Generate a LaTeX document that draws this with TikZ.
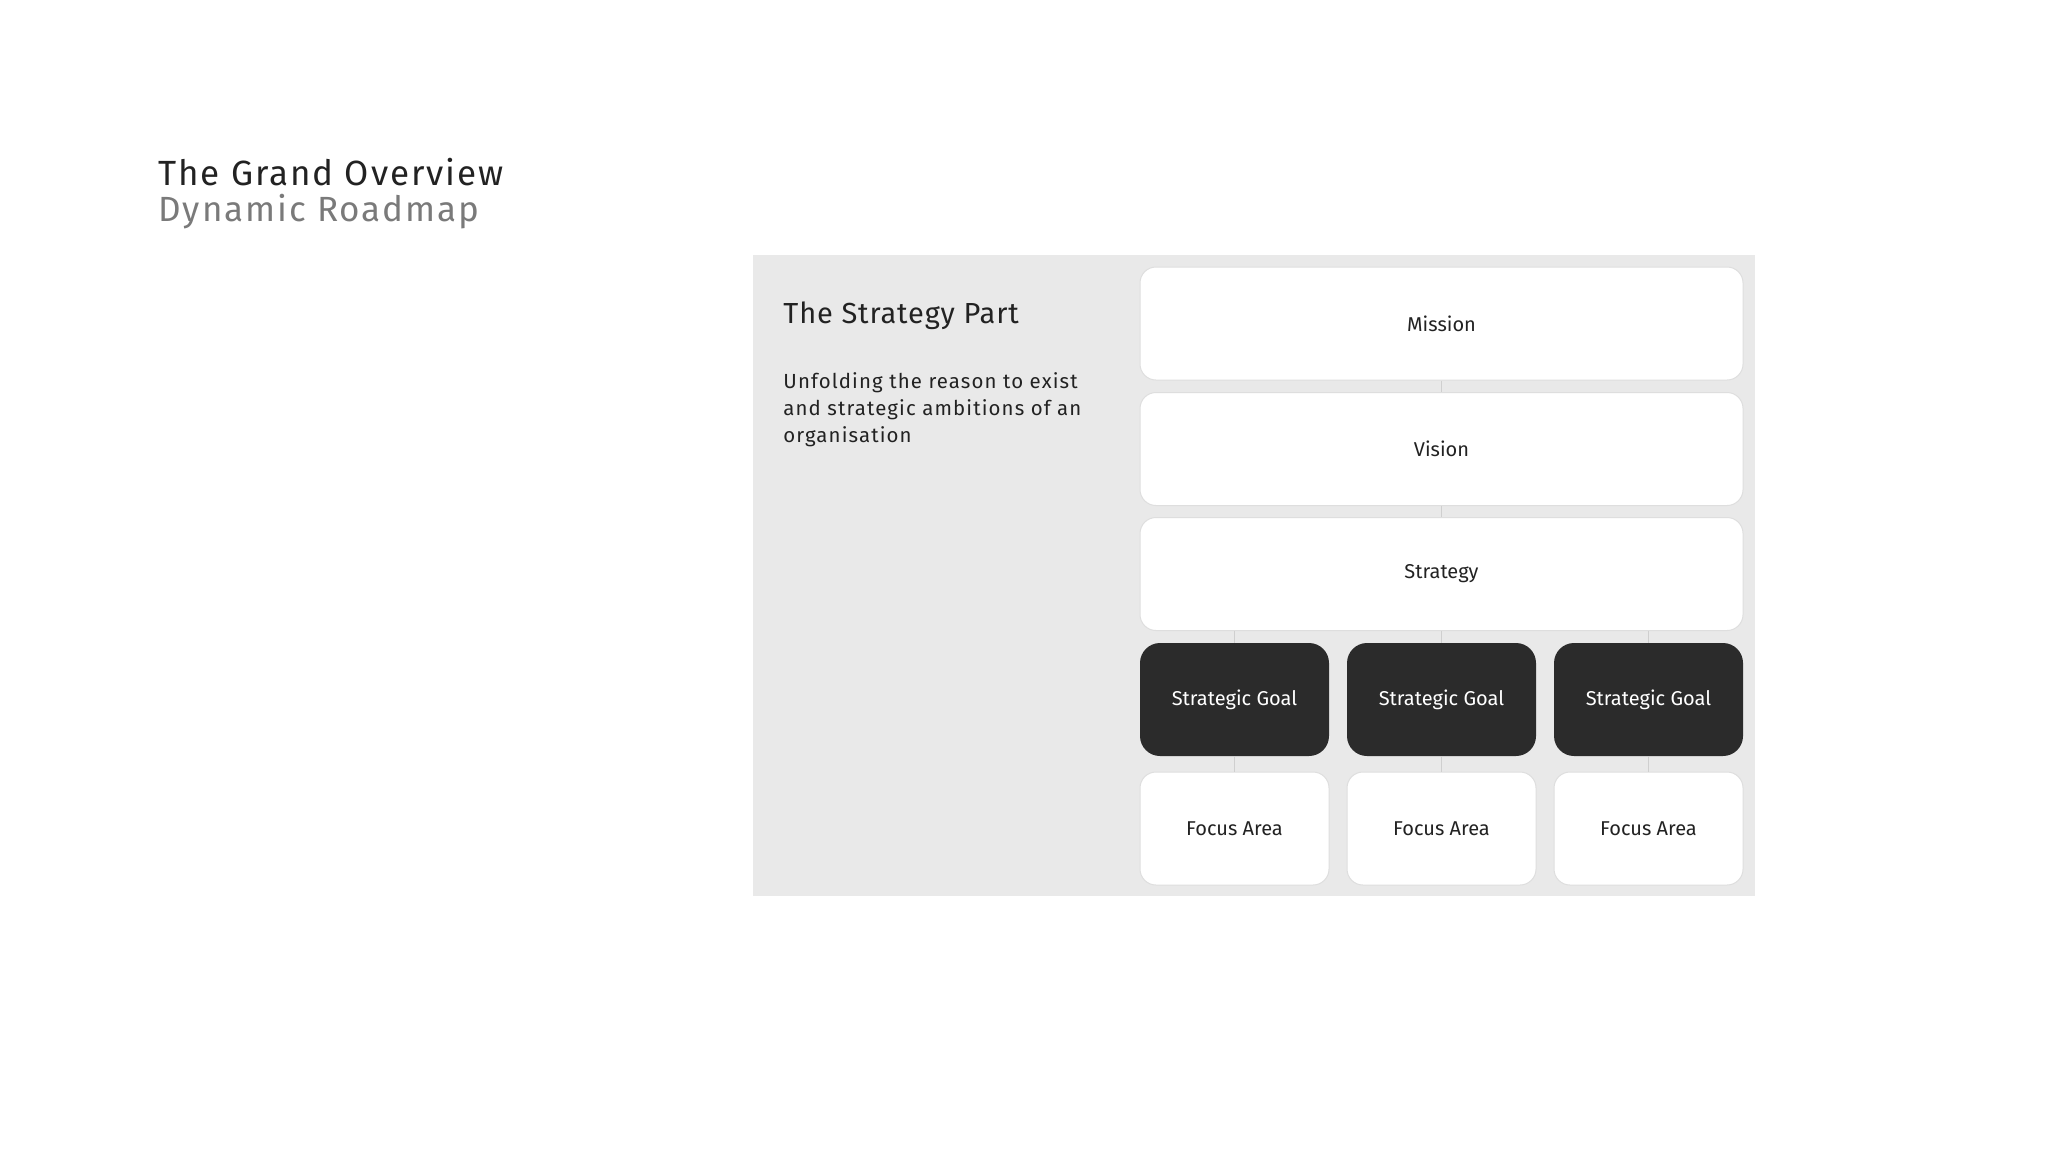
\documentclass[tikz,border=0pt]{standalone}
\usepackage{fontspec}
\setmainfont{Fira Sans}
\definecolor{panelgray}{HTML}{E9E9E9}
\definecolor{darkbox}{HTML}{2B2B2B}
\definecolor{inkdark}{HTML}{222222}
\definecolor{inkgray}{HTML}{7A7A7A}
\definecolor{linegray}{HTML}{CFCFCF}
\definecolor{edgegray}{HTML}{DEDEDE}
\begin{document}
\begin{tikzpicture}[x=0.5pt, y=-0.5pt]
    % Define styles
    \tikzset{
        wide/.style={rectangle, rounded corners=8pt, minimum width=301.5pt, minimum height=56.5pt, draw=edgegray, line width=0.5pt, fill=white, text=inkdark, font=\fontsize{10}{12}\selectfont},
        goal/.style={rectangle, rounded corners=10pt, minimum width=94.5pt, minimum height=56.5pt, fill=darkbox, text=white, font=\fontsize{10}{12}\selectfont},
        focus/.style={rectangle, rounded corners=8pt, minimum width=94.5pt, minimum height=56.5pt, draw=edgegray, line width=0.5pt, fill=white, text=inkdark, font=\fontsize{10}{12}\selectfont},
        link/.style={draw=linegray, line width=0.6pt},
    }

    % Canvas
    \useasboundingbox[fill=white] (0,0) rectangle (2048,1152);
    \fill[panelgray] (753,255) rectangle (1755,896);

    % Title
    \node[anchor=base west, inner sep=0, text=inkdark, font=\fontsize{17.5}{20}\selectfont\addfontfeatures{LetterSpace=5.5}] (title) at (158,185) {The Grand Overview};
    \node[anchor=base west, inner sep=0, text=inkgray, font=\fontsize{17.5}{20}\selectfont\addfontfeatures{LetterSpace=5.5}] (subtitle) at (158,221) {Dynamic Roadmap};

    % Panel text
    \node[anchor=base west, inner sep=0, text=inkdark, font=\fontsize{14.5}{17}\selectfont\addfontfeatures{LetterSpace=3}] (part) at (783,323) {The Strategy Part};
    \node[anchor=north west, inner sep=0, align=left, text=inkdark, font=\fontsize{10.2}{13.5}\selectfont\addfontfeatures{LetterSpace=5.5}] (blurb) at (783,372) {Unfolding the reason to exist\\and strategic ambitions of an\\organisation};

    % Boxes
    \node[wide] (mission) at (1441.5,323.5) {Mission};
    \node[wide] (vision) at (1441.5,449) {Vision};
    \node[wide] (strategy) at (1441.5,574) {Strategy};

    \node[goal] (goal1) at (1234.5,699.5) {Strategic Goal};
    \node[goal] (goal2) at (1441.5,699.5) {Strategic Goal};
    \node[goal] (goal3) at (1648.5,699.5) {Strategic Goal};

    \node[focus] (focus1) at (1234.5,828.5) {Focus Area};
    \node[focus] (focus2) at (1441.5,828.5) {Focus Area};
    \node[focus] (focus3) at (1648.5,828.5) {Focus Area};

    % Links
    \draw[link] (mission) -- (vision);
    \draw[link] (vision) -- (strategy);
    \draw[link] (strategy.south -| goal1) -- (goal1);
    \draw[link] (strategy.south -| goal2) -- (goal2);
    \draw[link] (strategy.south -| goal3) -- (goal3);
    \draw[link] (goal1) -- (focus1);
    \draw[link] (goal2) -- (focus2);
    \draw[link] (goal3) -- (focus3);
\end{tikzpicture}
\end{document}
